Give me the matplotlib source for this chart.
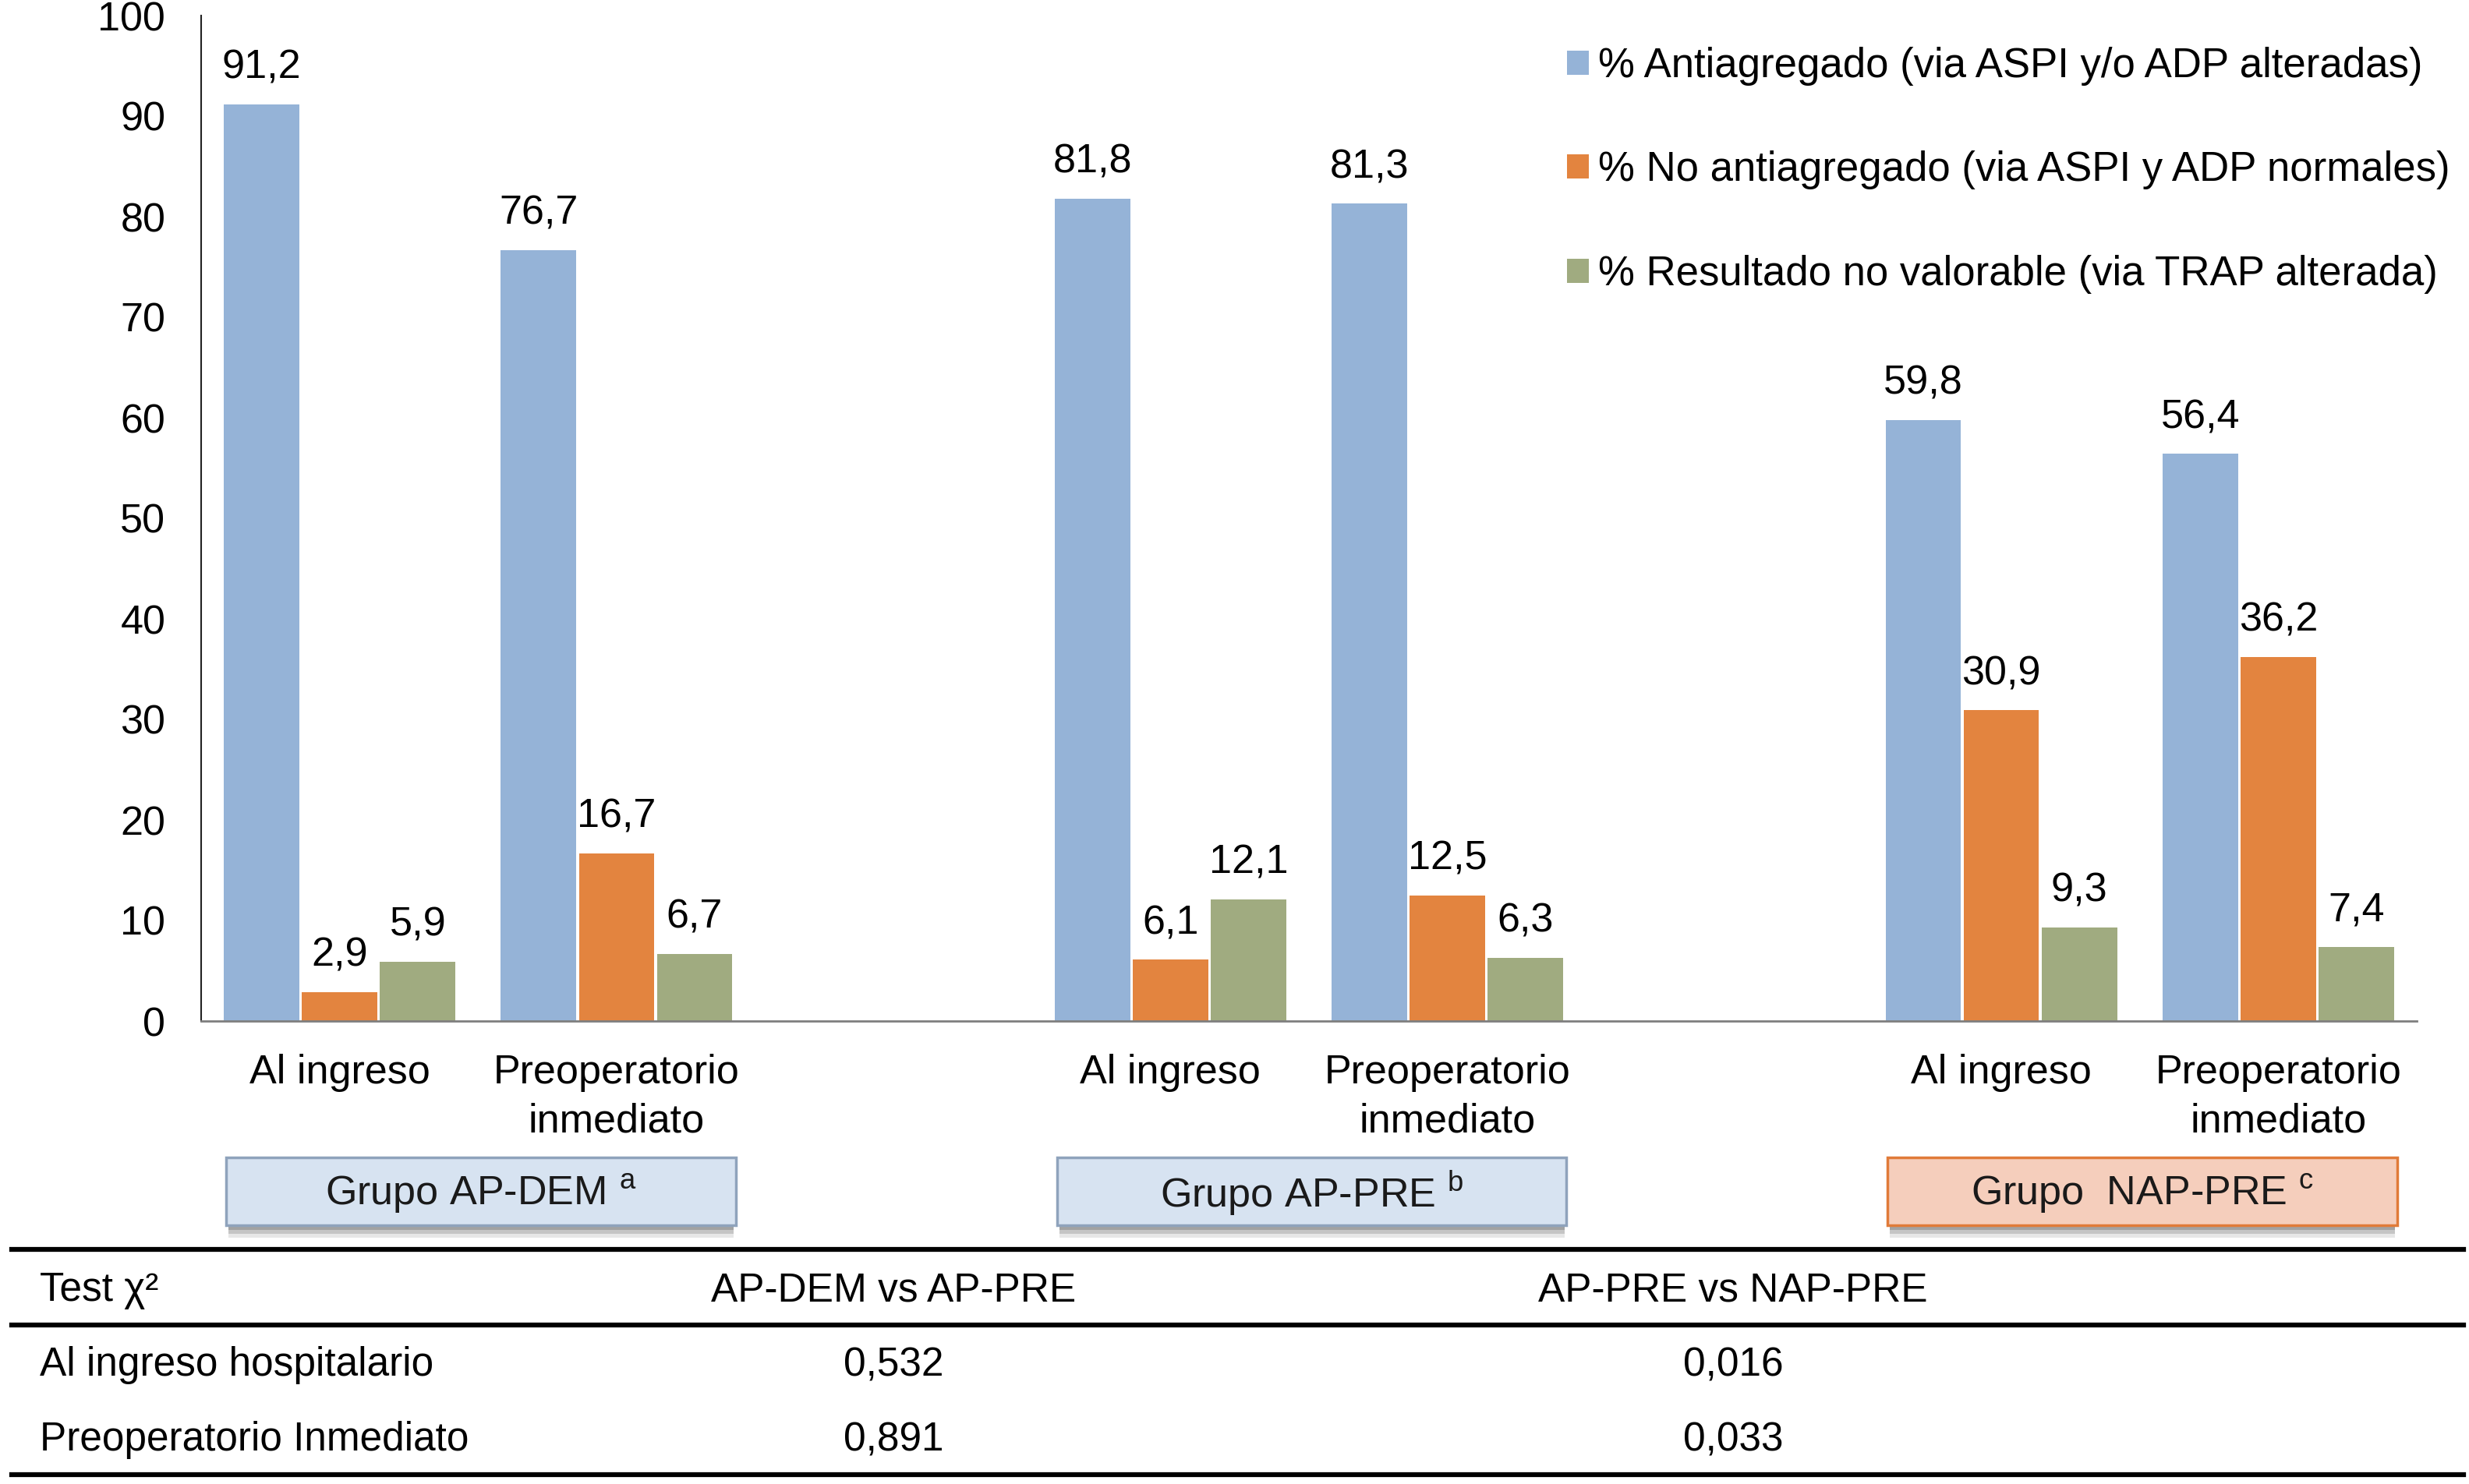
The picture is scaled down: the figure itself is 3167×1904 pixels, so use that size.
import matplotlib
matplotlib.use("Agg")
import matplotlib.pyplot as plt
from matplotlib.patches import Rectangle, Patch
from matplotlib.transforms import blended_transform_factory
import numpy as np

plt.rcParams['font.family'] = ['Liberation Sans', 'DejaVu Sans']
plt.rcParams['mathtext.fontset'] = 'custom'
plt.rcParams['mathtext.rm'] = 'Liberation Sans'

# ---------------- data ----------------
slot_positions = [0, 1, 3, 4, 6, 7]          # category slots (2 empty spacer slots)
moment_labels = ["Al ingreso", "Preoperatorio\ninmediato",
                 "Al ingreso", "Preoperatorio\ninmediato",
                 "Al ingreso", "Preoperatorio\ninmediato"]
series_names = ["% Antiagregado (via ASPI y/o ADP alteradas)",
                "% No antiagregado (via ASPI y ADP normales)",
                "% Resultado no valorable (via TRAP alterada)"]
antiagregado = [91.2, 76.7, 81.8, 81.3, 59.8, 56.4]
no_antiagregado = [2.9, 16.7, 6.1, 12.5, 30.9, 36.2]
no_valorable = [5.9, 6.7, 12.1, 6.3, 9.3, 7.4]
series_colors = ["#95B3D7", "#E3843F", "#A0AB80"]

group_names = ["Grupo AP-DEM $^{\\mathrm{a}}$", "Grupo AP-PRE $^{\\mathrm{b}}$",
               "Grupo  NAP-PRE $^{\\mathrm{c}}$"]
group_centers = [0.5, 3.5, 6.5]
group_fill = ["#D7E3F1", "#D7E3F1", "#F5CEBC"]
group_edge = ["#8FA3BC", "#8FA3BC", "#E07B39"]

table_header = ["Test χ²", "AP-DEM vs AP-PRE", "AP-PRE vs NAP-PRE"]
table_rows = ["Al ingreso hospitalario", "Preoperatorio Inmediato"]
p_apdem_vs_appre = ["0,532", "0,891"]
p_appre_vs_nappre = ["0,016", "0,033"]

yticks = [0, 10, 20, 30, 40, 50, 60, 70, 80, 90, 100]

# ---------------- figure ----------------
W, H = 3167, 1904
fig = plt.figure(figsize=(W / 100, H / 100), dpi=100)
fig.patch.set_facecolor("white")

ax_left, ax_right = 258 / W, 3100 / W
ax_bottom, ax_top = 1 - 1310 / H, 1 - 20 / H
ax = fig.add_axes([ax_left, ax_bottom, ax_right - ax_left, ax_top - ax_bottom])

FS = 37.5
x = np.array(slot_positions, dtype=float)
bw = 0.272
step = 0.282
all_series = [antiagregado, no_antiagregado, no_valorable]
for i, (vals, col, name) in enumerate(zip(all_series, series_colors, series_names)):
    bars = ax.bar(x + (i - 1) * step, vals, width=bw, color=col, edgecolor="none",
                  label=name, zorder=2)
    ax.bar_label(bars, labels=[f"{v:.1f}".replace(".", ",") for v in vals],
                 padding=16, fontsize=FS)

ax.set_xlim(-0.5, 7.5)
ax.set_ylim(0, 100)
ax.set_yticks(yticks)
ax.set_yticklabels([str(t) for t in yticks], fontsize=FS)
ax.set_xticks(x)
ax.set_xticklabels(moment_labels, fontsize=FS, linespacing=1.36)
ax.tick_params(axis="y", length=0, pad=33)
ax.tick_params(axis="x", length=0, pad=30)
for s in ["top", "right"]:
    ax.spines[s].set_visible(False)
ax.spines["left"].set_color("#222222")
ax.spines["left"].set_linewidth(1.5)
ax.spines["bottom"].set_color("#7F7F7F")
ax.spines["bottom"].set_linewidth(2)

handles = [Patch(facecolor=c, edgecolor="none") for c in series_colors]
fig.legend(handles, series_names, loc="upper left",
           bbox_to_anchor=(2010 / W, 1 - 60 / H), frameon=False, fontsize=38,
           handlelength=0.53, handleheight=0.53, handletextpad=0.22,
           labelspacing=1.58, borderpad=0, borderaxespad=0)

# ---------------- group boxes ----------------
tr = blended_transform_factory(ax.transData, fig.transFigure)
box_w = 1.84
b_bot, b_top = 1 - 1572 / H, 1 - 1485 / H
for name, cx, fc, ec in zip(group_names, group_centers, group_fill, group_edge):
    x0 = cx + 0.01 - box_w / 2
    # soft shadow (a few stacked translucent strips)
    for k, a in enumerate([0.45, 0.3, 0.18]):
        fig.patches.append(Rectangle((x0 + 0.008, b_bot - (6 + 5 * k) / H),
                                     box_w - 0.016, (6 + 5 * k) / H,
                                     transform=tr, facecolor="#7A7A7A", alpha=a,
                                     edgecolor="none", zorder=1))
    fig.patches.append(Rectangle((x0, b_bot), box_w, b_top - b_bot, transform=tr,
                                 facecolor=fc, edgecolor=ec, linewidth=2.5, zorder=2))
    fig.text(cx + 0.01, (b_bot + b_top) / 2 - 3 / H, name, transform=tr, ha="center",
             va="center", fontsize=FS, color="#1A1A1A", zorder=3)

# ---------------- table ----------------
lx0, lx1 = 15 / W, 3160 / W
for yy in [1603, 1700, 1892]:
    fig.add_artist(plt.Line2D([lx0, lx1], [1 - yy / H, 1 - yy / H], color="black",
                              linewidth=4.5, transform=fig.transFigure))
col_x = [51 / W, 1146 / W, 2223 / W]
row_y = [1 - 1656 / H, 1 - 1752 / H, 1 - 1848 / H]
TFS = FS - 0.5
fig.text(col_x[0], row_y[0], table_header[0], ha="left", va="center", fontsize=TFS)
fig.text(col_x[1], row_y[0], table_header[1], ha="center", va="center", fontsize=TFS)
fig.text(col_x[2], row_y[0], table_header[2], ha="center", va="center", fontsize=TFS)
for r, lab in enumerate(table_rows):
    fig.text(col_x[0], row_y[r + 1], lab, ha="left", va="center", fontsize=TFS)
    fig.text(col_x[1], row_y[r + 1], p_apdem_vs_appre[r], ha="center", va="center",
             fontsize=TFS)
    fig.text(col_x[2], row_y[r + 1], p_appre_vs_nappre[r], ha="center", va="center",
             fontsize=TFS)

fig.savefig("out.png", dpi=100)
